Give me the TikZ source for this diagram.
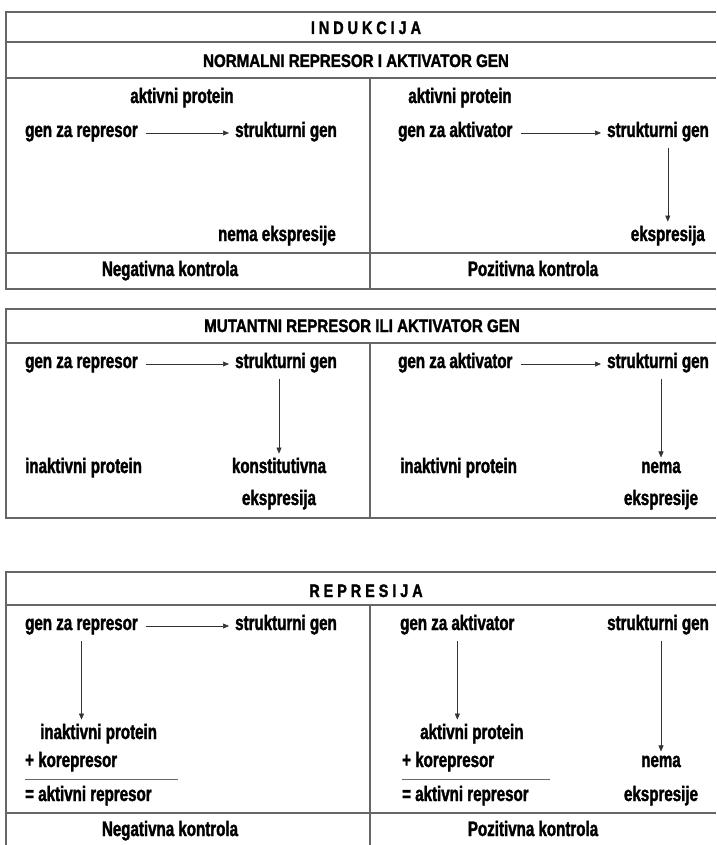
\documentclass[tikz,border=0pt]{standalone}
\usepackage{fontspec}
\setmainfont[FakeStretch=0.72,BoldFeatures={FakeBold=1.6}]{Liberation Sans}
\newfontfamily\headfont[FakeStretch=0.84,BoldFeatures={FakeBold=1.6}]{Liberation Sans}
\newfontfamily\spacedfont[FakeStretch=0.8,LetterSpace=22,BoldFeatures={FakeBold=1.6}]{Liberation Sans}
\usetikzlibrary{arrows.meta}

\tikzset{
  lbl/.style={font=\bfseries\fontsize{21}{21}\selectfont, inner sep=0pt, anchor=base},
  lblw/.style={lbl, anchor=base west},
  lble/.style={lbl, anchor=base east},
  head/.style={font=\headfont\bfseries\fontsize{18}{18}\selectfont, inner sep=0pt, anchor=base},
  frame/.style={draw=black!60, line width=1.1pt},
  arr/.style={-{Triangle[length=6pt,width=5pt]}, line width=0.5pt, draw=black!80},
}

\begin{document}
\begin{tikzpicture}[x=1pt,y=-1pt]
\useasboundingbox (0,0) rectangle (716,845);

% Indukcija - frame
\draw[frame] (716,12) -- (6,12) -- (6,289) -- (716,289);
\foreach \y in {42,78,253}
    \draw[frame] (6,\y) -- (716,\y);
\draw[frame] (370,78) -- (370,289);

% Indukcija - titles
\node[head] (tind) at (366,34) {\spacedfont\bfseries INDUKCIJA};
\node[head] (tnorm) at (356,67) {NORMALNI REPRESOR I AKTIVATOR GEN};

% Normalni - negativna kontrola
\node[lbl] (ap1l) at (182,103) {aktivni protein};
\node[lblw] (gr1) at (25,137) {gen za represor};
\node[lblw] (sg1l) at (235,137) {strukturni gen};
\node[lble] (ne1) at (336,241) {nema ekspresije};
\node[lbl] (nk1) at (170,276) {Negativna kontrola};
\draw[arr, shorten <=8pt, shorten >=6pt] (gr1.base east) ++(0,-4) coordinate (a1) -- (a1 -| sg1l.west);

% Normalni - pozitivna kontrola
\node[lbl] (ap1r) at (460,103) {aktivni protein};
\node[lblw] (ga1) at (398,137) {gen za aktivator};
\node[lblw] (sg1r) at (607,137) {strukturni gen};
\node[lble] (ek1) at (705,241) {ekspresija};
\node[lbl] (pk1) at (533,276) {Pozitivna kontrola};
\draw[arr, shorten <=8pt, shorten >=6pt] (ga1.base east) ++(0,-4) coordinate (a2) -- (a2 -| sg1r.west);
\draw[arr, shorten <=6pt, shorten >=4pt] (sg1r.south -| ek1.north) -- (ek1.north);

% Mutantni - frame
\draw[frame] (716,309) -- (6,309) -- (6,518) -- (716,518);
\draw[frame] (6,343) -- (716,343);
\draw[frame] (370,343) -- (370,518);

% Mutantni - title
\node[head] (tmut) at (362,332) {MUTANTNI REPRESOR ILI AKTIVATOR GEN};

% Mutantni - levo
\node[lblw] (gr2) at (25,368) {gen za represor};
\node[lblw] (sg2l) at (235,368) {strukturni gen};
\node[lblw] (ip2l) at (25,473) {inaktivni protein};
\node[lbl] (ko2) at (279,473) {konstitutivna};
\node[lbl] (ek2) at (279,505) {ekspresija};
\draw[arr, shorten <=8pt, shorten >=6pt] (gr2.base east) ++(0,-4) coordinate (a3) -- (a3 -| sg2l.west);
\draw[arr, shorten <=6pt, shorten >=4pt] (sg2l.south -| ko2.north) -- (ko2.north);

% Mutantni - desno
\node[lblw] (ga2) at (398,368) {gen za aktivator};
\node[lblw] (sg2r) at (607,368) {strukturni gen};
\node[lblw] (ip2r) at (400,473) {inaktivni protein};
\node[lbl] (nm2) at (661,473) {nema};
\node[lbl] (ne2) at (661,505) {ekspresije};
\draw[arr, shorten <=8pt, shorten >=6pt] (ga2.base east) ++(0,-4) coordinate (a4) -- (a4 -| sg2r.west);
\draw[arr, shorten <=6pt, shorten >=4pt] (sg2r.south -| nm2.north) -- (nm2.north);

% Represija - frame
\draw[frame] (716,572) -- (6,572) -- (6,845);
\foreach \y in {605,813}
    \draw[frame] (6,\y) -- (716,\y);
\draw[frame] (370,605) -- (370,845);

% Represija - title
\node[head] (trep) at (366,597) {\spacedfont\bfseries REPRESIJA};

% Represija - negativna kontrola
\node[lblw] (gr3) at (25,630) {gen za represor};
\node[lblw] (sg3l) at (235,630) {strukturni gen};
\node[lblw] (ip3) at (40,739) {inaktivni protein};
\node[lblw] (kr3l) at (25,767) {+ korepresor};
\node[lblw] (ar3l) at (25,801) {= aktivni represor};
\node[lbl] (nk3) at (170,836) {Negativna kontrola};
\draw[arr, shorten <=8pt, shorten >=6pt] (gr3.base east) ++(0,-4) coordinate (a5) -- (a5 -| sg3l.west);
\draw[arr, shorten <=6pt, shorten >=4pt] (gr3.south) -- (gr3.south |- ip3.north);
\draw[black!60, line width=0.6pt] (kr3l.base west) ++(0,12) -- ++(153,0);

% Represija - pozitivna kontrola
\node[lblw] (ga3) at (400,630) {gen za aktivator};
\node[lblw] (sg3r) at (607,630) {strukturni gen};
\node[lblw] (ap3) at (420,739) {aktivni protein};
\node[lblw] (kr3r) at (402,767) {+\ korepresor};
\node[lblw] (ar3r) at (402,801) {=\ aktivni represor};
\node[lbl] (nm3) at (661,767) {nema};
\node[lbl] (ne3) at (661,801) {ekspresije};
\node[lbl] (pk3) at (533,836) {Pozitivna kontrola};
\draw[arr, shorten <=6pt, shorten >=4pt] (ga3.south) -- (ga3.south |- ap3.north);
\draw[arr, shorten <=6pt, shorten >=4pt] (sg3r.south -| nm3.north) -- (nm3.north);
\draw[black!60, line width=0.6pt] (kr3r.base west) ++(0,12) -- ++(148,0);

\end{tikzpicture}
\end{document}
